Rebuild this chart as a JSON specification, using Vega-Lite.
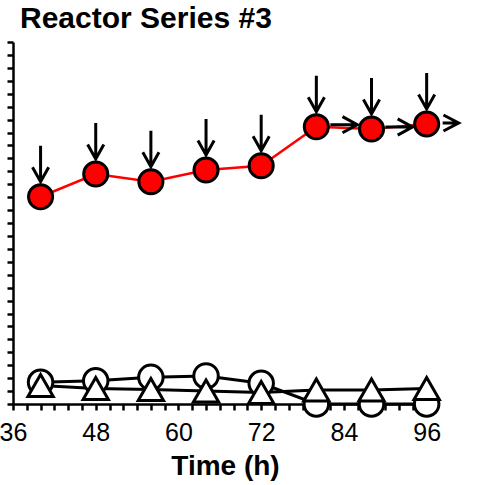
{
  "$schema": "https://vega.github.io/schema/vega-lite/v6.json",
  "autosize": "none",
  "width": 424,
  "height": 362,
  "padding": {"left": 13, "top": 42, "right": 47, "bottom": 81},
  "background": "white",
  "config": {"view": {"stroke": null}, "font": "Liberation Sans"},
  "title": {
    "text": "Reactor Series #3",
    "anchor": "start",
    "frame": "group",
    "font": "Liberation Sans",
    "fontSize": 30,
    "fontWeight": "bold",
    "color": "black",
    "baseline": "alphabetic",
    "offset": 10,
    "dx": 7,
    "dy": 27
  },
  "datasets": {
    "red": [
      {"t": 40, "v": 16.03, "cont": "no"},
      {"t": 48, "v": 17.79, "cont": "no"},
      {"t": 56, "v": 17.19, "cont": "no"},
      {"t": 64, "v": 18.1, "cont": "no"},
      {"t": 72, "v": 18.43, "cont": "no"},
      {"t": 80, "v": 21.45, "cont": "yes"},
      {"t": 88, "v": 21.27, "cont": "yes"},
      {"t": 96, "v": 21.66, "cont": "end"}
    ],
    "black": [
      {"t": 40, "series": "circle", "v": 1.68},
      {"t": 48, "series": "circle", "v": 1.8},
      {"t": 56, "series": "circle", "v": 2.06},
      {"t": 64, "series": "circle", "v": 2.17},
      {"t": 72, "series": "circle", "v": 1.6},
      {"t": 80, "series": "circle", "v": 0},
      {"t": 88, "series": "circle", "v": 0},
      {"t": 96, "series": "circle", "v": 0},
      {"t": 40, "series": "triangle", "v": 1.43},
      {"t": 48, "series": "triangle", "v": 1.2},
      {"t": 56, "series": "triangle", "v": 1.12},
      {"t": 64, "series": "triangle", "v": 1.0},
      {"t": 72, "series": "triangle", "v": 0.89},
      {"t": 80, "series": "triangle", "v": 1.08},
      {"t": 88, "series": "triangle", "v": 1.08},
      {"t": 96, "series": "triangle", "v": 1.2}
    ]
  },
  "encoding": {
    "x": {
      "field": "t",
      "type": "quantitative",
      "scale": {"domain": [36, 97.5], "nice": false, "zero": false},
      "axis": {
        "values": [36,38,40,42,44,46,48,50,52,54,56,58,60,62,64,66,68,70,72,74,76,78,80,82,84,86,88,90,92,94,96],
        "labelExpr": "datum.value % 12 === 0 ? datum.label : ''",
        "labelOverlap": false,
        "labelBound": false,
        "labelFlush": false,
        "grid": false,
        "domainColor": "black",
        "domainWidth": 2.5,
        "tickColor": "black",
        "tickWidth": 2.5,
        "tickSize": 6,
        "labelFont": "Liberation Sans",
        "labelFontSize": 25,
        "labelColor": "black",
        "labelPadding": 10,
        "title": "Time (h)",
        "titleFont": "Liberation Sans",
        "titleFontSize": 28,
        "titleFontWeight": "bold",
        "titleColor": "black",
        "titlePadding": 7
      }
    },
    "y": {
      "field": "v",
      "type": "quantitative",
      "scale": {"domain": [0, 28], "nice": false, "zero": false},
      "axis": {
        "values": [0,1,2,3,4,5,6,7,8,9,10,11,12,13,14,15,16,17,18,19,20,21,22,23,24,25,26,27,28],
        "labels": false,
        "grid": false,
        "title": null,
        "domainColor": "black",
        "domainWidth": 2.5,
        "tickColor": "black",
        "tickWidth": 2.5,
        "tickSize": 6
      }
    }
  },
  "layer": [
    {
      "data": {"name": "black"},
      "mark": {"type": "line", "color": "black", "strokeWidth": 3},
      "encoding": {"detail": {"field": "series"}}
    },
    {
      "data": {"name": "black"},
      "transform": [{"filter": "datum.series === 'circle'"}],
      "mark": {"type": "point", "shape": "circle", "filled": true, "fill": "white", "stroke": "black", "strokeWidth": 3, "size": 600, "opacity": 1}
    },
    {
      "data": {"name": "black"},
      "transform": [{"filter": "datum.series === 'triangle'"}],
      "mark": {"type": "point", "shape": "triangle-up", "filled": true, "fill": "white", "stroke": "black", "strokeWidth": 3, "size": 640, "opacity": 1}
    },
    {
      "data": {"name": "red"},
      "mark": {"type": "line", "color": "#ff0000", "strokeWidth": 2.5}
    },
    {
      "data": {"name": "red"},
      "mark": {"type": "point", "shape": "circle", "filled": true, "fill": "#ff0000", "stroke": "black", "strokeWidth": 3, "size": 580, "opacity": 1}
    },
    {
      "data": {"name": "red"},
      "mark": {"type": "point", "shape": "M0,-1L0,1M-0.45,0.2L0,1L0.45,0.2", "filled": false, "fill": null, "stroke": "black", "strokeWidth": 3, "size": 1296, "yOffset": -33, "opacity": 1}
    },
    {
      "data": {"name": "red"},
      "transform": [{"filter": "datum.cont === 'yes'"}],
      "mark": {"type": "point", "shape": "M-1,0L1,0M-0.1,-0.6L1,0L-0.1,0.6", "filled": false, "fill": null, "stroke": "black", "strokeWidth": 3, "size": 729, "xOffset": 27.5, "yOffset": -2, "opacity": 1}
    },
    {
      "data": {"name": "red"},
      "transform": [{"filter": "datum.cont === 'end'"}],
      "mark": {"type": "point", "shape": "M-1,0L1,0M-0.9,-1L1,0L-0.9,1", "filled": false, "fill": null, "stroke": "black", "strokeWidth": 3, "size": 256, "xOffset": 24, "yOffset": -1, "opacity": 1}
    }
  ]
}
